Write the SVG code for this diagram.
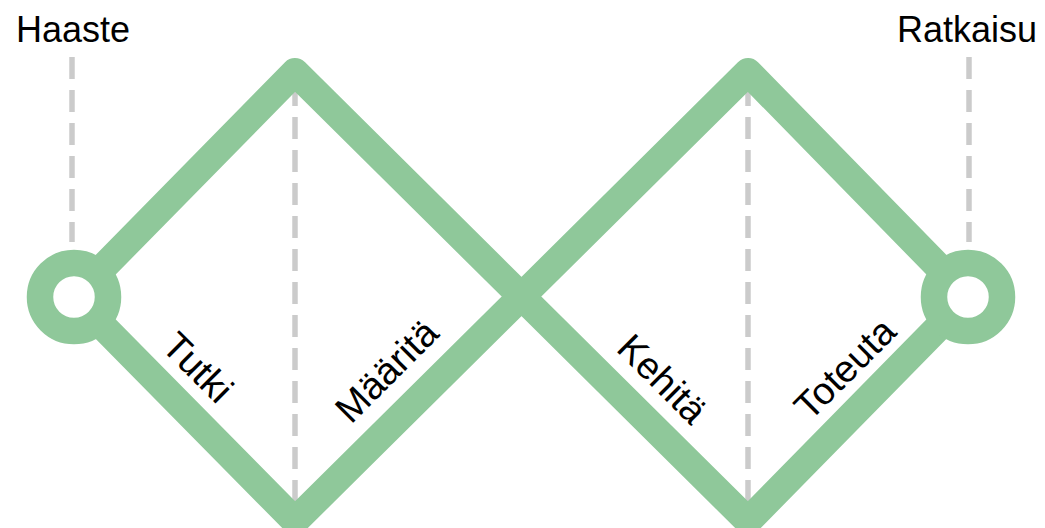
<svg xmlns="http://www.w3.org/2000/svg" width="1045" height="528" viewBox="0 0 1045 528">
<style>
.dash{stroke:#cbcbcb;stroke-width:5.5;stroke-dasharray:22 11;fill:none}
.band{stroke:#8fc89a;stroke-width:28;fill:none;stroke-linejoin:round}
.ring{stroke:#8fc89a;stroke-width:26.5;fill:#ffffff}
.hdr{font-family:"Liberation Sans",Arial,sans-serif;font-size:36px;fill:#000}
.lbl{font-family:"Liberation Sans",Arial,sans-serif;font-size:38px;fill:#000}
</style>
<rect width="1045" height="528" fill="#ffffff"/>
<g id="guides">
<line class="dash" x1="72" y1="57" x2="72" y2="242"/>
<line class="dash" x1="969" y1="57" x2="969" y2="242"/>
<line class="dash" x1="295" y1="84" x2="295" y2="520"/>
<line class="dash" x1="748" y1="84" x2="748" y2="520"/>
</g>
<g id="connectors">
<path class="band" d="M74,297 L295,72 L748,521 L968,297 L748,72 L295,521 Z"/>
</g>
<g id="node-haaste">
<circle class="ring" cx="74" cy="297" r="34"/>
<text class="hdr" x="16" y="42">Haaste</text>
</g>
<g id="node-ratkaisu">
<circle class="ring" cx="968" cy="297" r="34"/>
<text class="hdr" x="1037" y="42" text-anchor="end">Ratkaisu</text>
</g>
<g id="labels">
<text class="lbl" transform="translate(160,348) rotate(45)">Tutki</text>
<text class="lbl" transform="translate(351,425) rotate(-45)">Määritä</text>
<text class="lbl" transform="translate(615,350) rotate(45)">Kehitä</text>
<text class="lbl" transform="translate(810,422) rotate(-45)">Toteuta</text>
</g>
</svg>
